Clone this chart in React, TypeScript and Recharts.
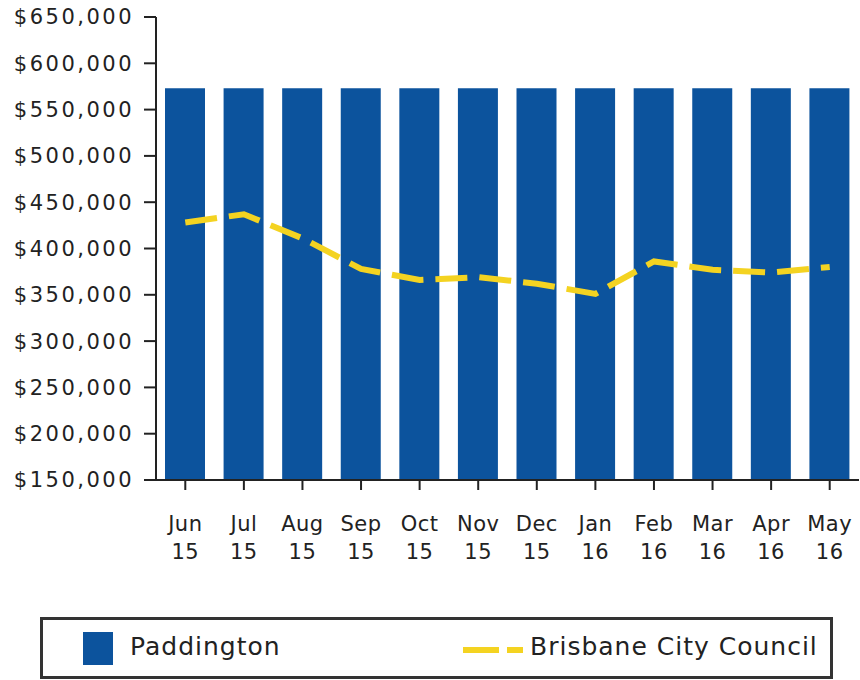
import { ComposedChart, Bar, Line, XAxis, YAxis } from 'recharts'

const months = ['Jun', 'Jul', 'Aug', 'Sep', 'Oct', 'Nov', 'Dec', 'Jan', 'Feb', 'Mar', 'Apr', 'May']
const years = ['15', '15', '15', '15', '15', '15', '15', '16', '16', '16', '16', '16']
const paddington = [573000, 573000, 573000, 573000, 573000, 573000, 573000, 573000, 573000, 573000, 573000, 573000]
const brisbane = [428000, 437000, 411000, 378000, 366000, 369000, 362000, 351000, 386000, 377000, 374000, 380000]
const yTicks = [150000, 200000, 250000, 300000, 350000, 400000, 450000, 500000, 550000, 600000, 650000]

const BLUE = '#0c539d'
const YELLOW = '#f4d321'
const INK = '#222'
const FONT = '"DejaVu Sans", Verdana, sans-serif'

const data = months.map((m, i) => ({
	label: `${m} ${years[i]}`,
	paddington: paddington[i],
	brisbane: brisbane[i],
}))

const money = (v: number) => `$${v.toLocaleString('en-US')}`

function MonthTick(props: any) {
	const { x, y, payload } = props
	const [m, yr] = String(payload.value).split(' ')
	return (
		<g>
			<text x={x} y={y + 41} textAnchor="middle" fill={INK} fontSize={21} fontFamily={FONT} letterSpacing={0.5}>{m}</text>
			<text x={x} y={y + 69} textAnchor="middle" fill={INK} fontSize={21} fontFamily={FONT} letterSpacing={0.5}>{yr}</text>
		</g>
	)
}

export default function App() {
	return (
		<div style={{ position: 'absolute', left: 0, top: 0, width: 860, height: 680, background: '#fff' }}>
			<ComposedChart width={860} height={680} data={data} margin={{ top: 17, right: 1, left: 0, bottom: 100 }}>
				<XAxis
					dataKey="label"
					height={100}
					tick={<MonthTick />}
					tickSize={10}
					tickMargin={0}
					interval={0}
					axisLine={{ stroke: INK, strokeWidth: 2 }}
					tickLine={{ stroke: INK, strokeWidth: 2 }}
				/>
				<YAxis
					width={156}
					domain={[150000, 650000]}
					ticks={yTicks}
					allowDataOverflow
					tickFormatter={money}
					tickSize={12}
					tickMargin={10}
					axisLine={{ stroke: INK, strokeWidth: 2 }}
					tickLine={{ stroke: INK, strokeWidth: 2 }}
					tick={{ fill: INK, fontSize: 21, fontFamily: FONT, letterSpacing: 2.5 }}
				/>
				<Bar dataKey="paddington" fill={BLUE} barSize={40} isAnimationActive={false} />
				<Line
					dataKey="brisbane"
					type="linear"
					stroke={YELLOW}
					strokeWidth={6}
					strokeDasharray="32 12"
					dot={false}
					activeDot={false}
					isAnimationActive={false}
				/>
			</ComposedChart>
			<div
				style={{
					position: 'absolute',
					left: 40,
					top: 617,
					width: 787,
					height: 56,
					border: '3px solid #333',
					fontFamily: FONT,
					fontSize: 25,
					letterSpacing: 1,
					color: INK,
				}}
			>
				<div style={{ position: 'absolute', left: 40, top: 12, width: 30, height: 33, background: BLUE }} />
				<span style={{ position: 'absolute', left: 87, top: 12, lineHeight: '30px' }}>Paddington</span>
				<svg style={{ position: 'absolute', left: 420, top: 26 }} width={60} height={8}>
					<line x1={0} y1={4} x2={60} y2={4} stroke={YELLOW} strokeWidth={6} strokeDasharray="36 8 16 0" />
				</svg>
				<span style={{ position: 'absolute', left: 487, top: 12, lineHeight: '30px' }}>Brisbane City Council</span>
			</div>
		</div>
	)
}
